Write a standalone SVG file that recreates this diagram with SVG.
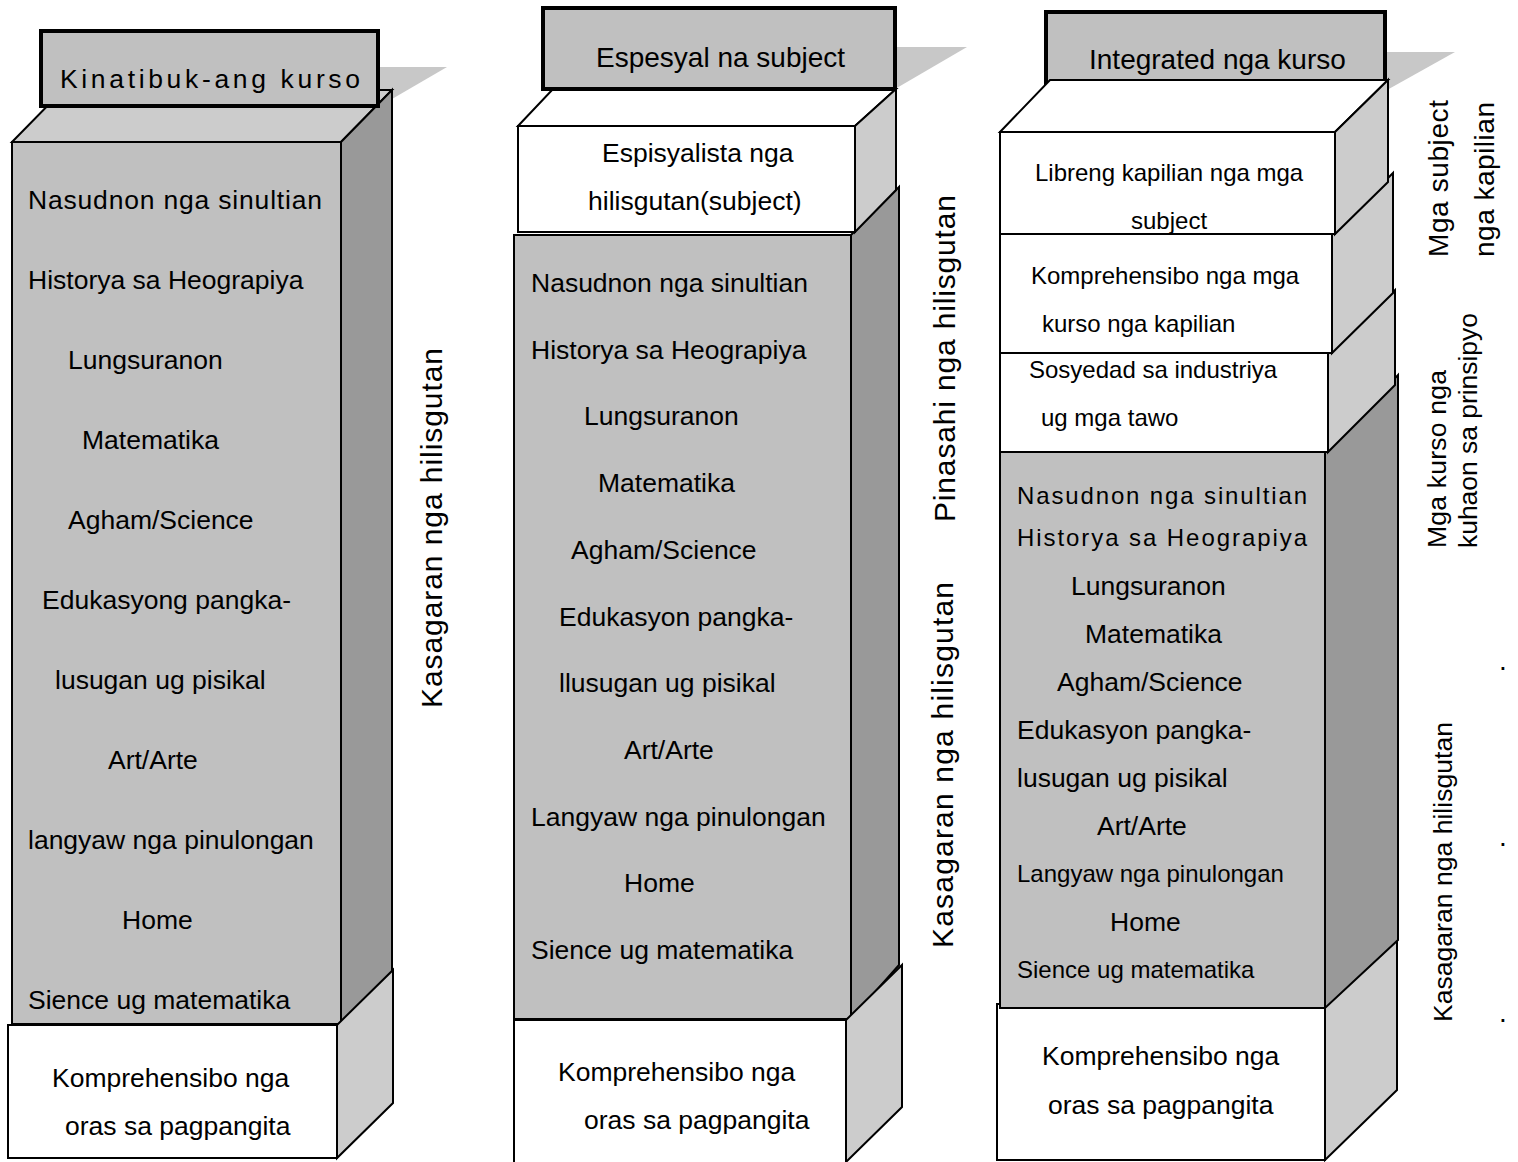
<svg xmlns="http://www.w3.org/2000/svg" width="1518" height="1162" viewBox="0 0 1518 1162">
<style>
text{font-family:"Liberation Sans",Arial,sans-serif;fill:#000}
.b{font-size:26.5px}
.s{font-size:24px}
.t{font-size:28px}
.v{font-size:30px}
.d{font-size:28px}
.box{stroke:#000;stroke-width:2;stroke-linejoin:miter}
.front{fill:#c0c0c0}
.dark{fill:#999999}
.light{fill:#cccccc}
.white{fill:#ffffff}
.title{fill:#c0c0c0;stroke:#000;stroke-width:4}
.shadow{fill:#c8c8c8}
</style>
<rect width="1518" height="1162" fill="#fff"/>

<!-- Column 1 -->
<g id="col1-shadow"><polygon class="shadow" points="378,67 447,67 392,99 378,106"/></g>
<g id="col1-main">
  <polygon class="box light" points="12,142 63,90 392,90 341,142"/>
  <polygon class="box dark" points="341,142 392,90 392,972 341,1024"/>
  <rect class="box front" x="12" y="142" width="329" height="882"/>
  <text class="b" x="28" y="209" textLength="294" lengthAdjust="spacing">Nasudnon nga sinultian</text>
  <text class="b" x="28" y="289">Historya sa Heograpiya</text>
  <text class="b" x="68" y="369">Lungsuranon</text>
  <text class="b" x="82" y="449">Matematika</text>
  <text class="b" x="68" y="529">Agham/Science</text>
  <text class="b" x="42" y="609">Edukasyong pangka-</text>
  <text class="b" x="55" y="689">lusugan ug pisikal</text>
  <text class="b" x="108" y="769">Art/Arte</text>
  <text class="b" x="28" y="849">langyaw nga pinulongan</text>
  <text class="b" x="122" y="929">Home</text>
  <text class="b" x="28" y="1009">Sience ug matematika</text>
</g>
<g id="col1-bottom">
  <polygon class="box light" points="337,1025 393,970 393,1103 337,1158"/>
  <rect class="box white" x="8" y="1025" width="329" height="133"/>
  <text class="b" x="52" y="1087">Komprehensibo nga</text>
  <text class="b" x="65" y="1135">oras sa pagpangita</text>
</g>
<g id="col1-title">
  <rect class="title" x="41" y="31" width="337" height="75"/>
  <text class="b" x="60" y="88" textLength="300" lengthAdjust="spacing">Kinatibuk-ang kurso</text>
</g>
<g id="col1-label">
  <text class="v" transform="translate(442,708) rotate(-90)" textLength="360" lengthAdjust="spacing">Kasagaran nga hilisgutan</text>
</g>

<!-- Column 2 -->
<g id="col2-shadow"><polygon class="shadow" points="895,47 967,47 895,89"/></g>
<g id="col2-main">
  <polygon class="box dark" points="851,235 899,187 899,965 851,1019"/>
  <rect class="box front" x="514" y="235" width="337" height="784"/>
  <text class="b" x="531" y="292">Nasudnon nga sinultian</text>
  <text class="b" x="531" y="359">Historya sa Heograpiya</text>
  <text class="b" x="584" y="425">Lungsuranon</text>
  <text class="b" x="598" y="492">Matematika</text>
  <text class="b" x="571" y="559">Agham/Science</text>
  <text class="b" x="559" y="626">Edukasyon pangka-</text>
  <text class="b" x="559" y="692">llusugan ug pisikal</text>
  <text class="b" x="624" y="759">Art/Arte</text>
  <text class="b" x="531" y="826">Langyaw nga pinulongan</text>
  <text class="b" x="624" y="892">Home</text>
  <text class="b" x="531" y="959">Sience ug matematika</text>
</g>
<g id="col2-special">
  <polygon class="box white" points="518,126 553,89 896,89 855,126"/>
  <polygon class="box light" points="855,126 896,89 896,190 855,232"/>
  <rect class="box white" x="518" y="126" width="337" height="106"/>
  <text class="b" x="602" y="162">Espisyalista nga</text>
  <text class="b" x="588" y="210">hilisgutan(subject)</text>
</g>
<g id="col2-bottom">
  <polygon class="box light" points="846,1020 902,965 902,1107 846,1162"/>
  <rect class="box white" x="514" y="1020" width="332" height="150"/>
  <text class="b" x="558" y="1081">Komprehensibo nga</text>
  <text class="b" x="584" y="1129">oras sa pagpangita</text>
</g>
<g id="col2-title">
  <rect class="title" x="543" y="8" width="352" height="81"/>
  <text class="t" x="596" y="67">Espesyal na subject</text>
</g>
<g id="col2-labels">
  <text class="v" transform="translate(955,522) rotate(-90)" textLength="327" lengthAdjust="spacing">Pinasahi nga hilisgutan</text>
  <text class="v" transform="translate(953,948) rotate(-90)" textLength="366" lengthAdjust="spacing">Kasagaran nga hilisgutan</text>
</g>

<!-- Column 3 -->
<g id="col3-bottom">
  <polygon class="box light" points="1325,1005 1397,935 1397,1090 1325,1160"/>
  <rect class="box white" x="997" y="1004" width="328" height="156"/>
  <text class="b" x="1042" y="1065">Komprehensibo nga</text>
  <text class="b" x="1048" y="1114">oras sa pagpangita</text>
</g>
<g id="col3-main">
  <polygon class="box dark" points="1325,452 1398,375 1398,940 1325,1008"/>
  <rect class="box front" x="1000" y="452" width="325" height="556"/>
  <text class="s" x="1017" y="504" textLength="290" lengthAdjust="spacing">Nasudnon nga sinultian</text>
  <text class="s" x="1017" y="546" textLength="290" lengthAdjust="spacing">Historya sa Heograpiya</text>
  <text class="b" x="1071" y="595">Lungsuranon</text>
  <text class="b" x="1085" y="643">Matematika</text>
  <text class="b" x="1057" y="691">Agham/Science</text>
  <text class="b" x="1017" y="739">Edukasyon pangka-</text>
  <text class="b" x="1017" y="787">lusugan ug pisikal</text>
  <text class="b" x="1097" y="835">Art/Arte</text>
  <text class="s" x="1017" y="882">Langyaw nga pinulongan</text>
  <text class="b" x="1110" y="931">Home</text>
  <text class="s" x="1017" y="978">Sience ug matematika</text>
</g>
<g id="col3-society">
  <polygon class="box light" points="1328,353 1395,290 1395,385 1328,452"/>
  <rect class="box white" x="1000" y="353" width="328" height="99"/>
  <text class="s" x="1029" y="378">Sosyedad sa industriya</text>
  <text class="s" x="1041" y="426">ug mga tawo</text>
</g>
<g id="col3-comprehensive">
  <polygon class="box light" points="1332,234 1393,173 1393,293 1332,353"/>
  <rect class="box white" x="1000" y="234" width="332" height="119"/>
  <text class="s" x="1031" y="284">Komprehensibo nga mga</text>
  <text class="s" x="1042" y="332">kurso nga kapilian</text>
</g>
<g id="col3-title">
  <polygon class="shadow" points="1385,52 1455,52 1387,90"/>
  <rect class="title" x="1046" y="12" width="339" height="76"/>
  <text class="t" x="1089" y="69">Integrated nga kurso</text>
</g>
<g id="col3-free">
  <polygon class="box white" points="1000,132 1050,80 1388,80 1335,132"/>
  <polygon class="box light" points="1335,132 1388,80 1388,182 1335,234"/>
  <rect class="box white" x="1000" y="132" width="335" height="102"/>
  <text class="s" x="1035" y="181">Libreng kapilian nga mga</text>
  <text class="s" x="1131" y="229">subject</text>
</g>
<g id="col3-labels">
  <text class="t" transform="translate(1448,257) rotate(-90)" textLength="157" lengthAdjust="spacing">Mga subject</text>
  <text class="t" transform="translate(1494,257) rotate(-90)" textLength="155" lengthAdjust="spacing">nga kapilian</text>
  <text class="b" transform="translate(1446,548) rotate(-90)" textLength="178" lengthAdjust="spacing">Mga kurso nga</text>
  <text class="b" transform="translate(1477,548) rotate(-90)" textLength="235" lengthAdjust="spacing">kuhaon sa prinsipyo</text>
  <text class="b" transform="translate(1452,1022) rotate(-90)" textLength="300" lengthAdjust="spacing">Kasagaran nga hilisgutan</text>
  <text class="d" x="1499" y="670">.</text>
  <text class="d" x="1499" y="846">.</text>
  <text class="d" x="1499" y="1022">.</text>
</g>
<g id="connectors"></g>
</svg>
